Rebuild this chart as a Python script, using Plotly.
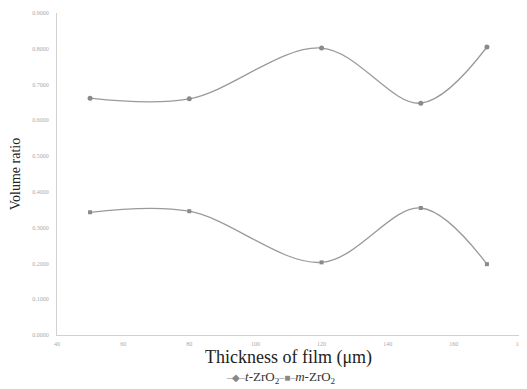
import plotly.graph_objects as go

thickness = [50, 80, 120, 150, 170]
t_zro2 = [0.662, 0.660, 0.802, 0.648, 0.805]
m_zro2 = [0.343, 0.346, 0.203, 0.355, 0.198]
y_ticks = [0.0, 0.1, 0.2, 0.3, 0.4, 0.5, 0.6, 0.7, 0.8, 0.9]
x_ticks = [40, 60, 80, 100, 120, 140, 160, 180]
legend_text = ("<span style='color:#888;font-size:10px'>–◆–</span><i>t</i>-ZrO<sub>2</sub>"
               "<span style='color:#888;font-size:10px'>–■–</span><i>m</i>-ZrO<sub>2</sub>")

# page body has an 8px offset; plot area in page: x 57..520, y 13..335
L, T, R, B = 49, 5, 512, 327
W, H = 527, 389

fig = go.Figure()
fig.add_trace(go.Scatter(
    x=thickness, y=t_zro2, mode="lines+markers", name="t-ZrO2",
    line=dict(color="#9a9a9a", width=1.3, shape="spline", smoothing=1.0),
    marker=dict(symbol="circle", size=5, color="#8a8a8a"),
))
fig.add_trace(go.Scatter(
    x=thickness, y=m_zro2, mode="lines+markers", name="m-ZrO2",
    line=dict(color="#9a9a9a", width=1.3, shape="spline", smoothing=1.0),
    marker=dict(symbol="square", size=4, color="#8a8a8a"),
))

fig.update_layout(
    width=W, height=H,
    margin=dict(l=L, r=W - R, t=T, b=H - B, autoexpand=False),
    paper_bgcolor="white", plot_bgcolor="white",
    font=dict(family="Liberation Serif", color="#222"),
    showlegend=False,
    xaxis=dict(
        range=[40, 180], tickvals=x_ticks, ticktext=[str(v) for v in x_ticks],
        showgrid=False, zeroline=False, showline=True, linecolor="#d0d0d0", linewidth=1,
        tickfont=dict(size=6, color="#aaa"), ticklabelstandoff=3, automargin=False,
        title=dict(text="Thickness of film (μm)", font=dict(size=18, color="#222"), standoff=4),
    ),
    yaxis=dict(
        range=[0, 0.9], tickvals=y_ticks, tickformat=".4f",
        showgrid=False, zeroline=False, showline=True, linecolor="#d0d0d0", linewidth=1,
        tickfont=dict(size=6, color="#aaa"), ticklabelstandoff=6, automargin=False,
        title=dict(text="Volume ratio", font=dict(size=14, color="#222"), standoff=10),
    ),
    annotations=[dict(
        text=legend_text, xref="paper", yref="paper",
        x=(273 - L) / (R - L), y=-(369 - B) / (B - T),
        xanchor="center", yanchor="middle", showarrow=False,
        font=dict(size=13, color="#333", family="Liberation Serif"),
    )],
)

fig.write_html("out.html")
